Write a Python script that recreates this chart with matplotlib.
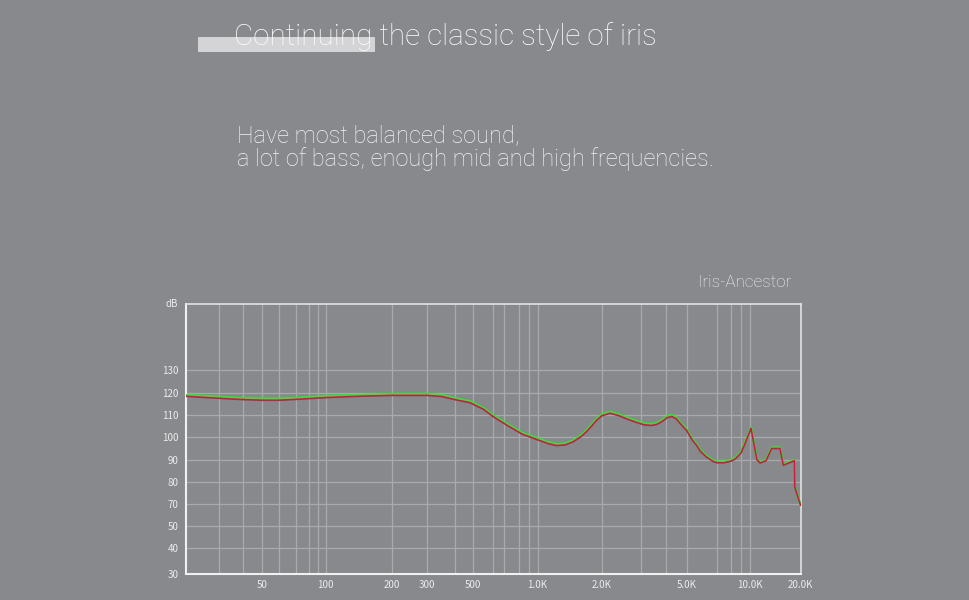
import matplotlib
matplotlib.use("Agg")
import matplotlib.pyplot as plt
import numpy as np
from matplotlib.patches import Rectangle
from matplotlib.ticker import FixedLocator, NullFormatter

# frequency response (Hz, dB)
freq = [20, 30, 40, 50, 60, 70, 100, 140, 200, 300, 350, 400, 480, 550, 600,
        715, 830, 1000, 1120, 1230, 1350, 1470, 1600, 1700, 1800, 1900, 2000,
        2180, 2370, 2600, 2820, 3100, 3390, 3600, 3810, 4050, 4250, 4450, 4650,
        5000, 5300, 5560, 5800, 6200, 6700, 7000, 7500, 8000, 8400, 9000, 9500,
        10200, 11050, 11550, 12500, 13500, 15100, 15800, 18350, 18450, 19950]
red_db = [118.5, 117.6, 117.0, 116.7, 116.7, 117.1, 117.9, 118.5, 118.9, 118.9,
          118.4, 117.0, 115.6, 112.6, 109.4, 105.5, 101.4, 98.9, 97.2, 96.3,
          96.6, 98.0, 100.3, 102.6, 105.2, 107.8, 109.6, 110.8, 109.8, 108.2,
          106.9, 105.6, 105.3, 105.8, 107.0, 108.8, 109.3, 108.4, 106.2, 102.8,
          98.8, 96.5, 93.8, 91.3, 89.2, 88.6, 88.6, 89.3, 90.2, 93.0, 97.5,
          104.0, 90.0, 88.5, 89.5, 95.0, 95.0, 87.5, 89.5, 77.5, 69.0]
green_db = [119.0, 118.2, 117.6, 117.4, 117.4, 117.7, 118.5, 119.1, 119.5, 119.5,
            119.0, 117.6, 116.2, 113.2, 110.0, 106.1, 102.0, 99.5, 97.8, 96.9,
            97.2, 98.6, 100.9, 103.2, 105.8, 108.4, 110.2, 111.4, 110.4, 108.8,
            107.5, 106.2, 105.9, 106.4, 107.6, 109.4, 109.9, 109.0, 106.8, 103.3,
            99.3, 97.0, 94.3, 91.8, 89.7, 89.1, 89.1, 89.8, 90.7, 93.5, 98.0,
            104.4, 90.4, 88.9, 89.9, 95.4, 95.4, 87.9, 89.8, 77.8, 69.2]

x_label_pos = [50, 100, 200, 300, 500, 1000, 2000, 5000, 10000, 20000]
x_labels = ['50', '100', '200', '300', '500', '1.0K', '2.0K', '5.0K', '10.0K', '20.0K']
x_grid = [30, 40, 50, 60, 70, 80, 90, 100, 200, 300, 400, 500, 600, 700, 800,
          900, 1000, 2000, 3000, 4000, 5000, 7000, 8000, 9000, 10000]
y_ticks = [30, 40, 50, 70, 80, 90, 100, 110, 120, 130]

# the measuring software's axes are not quite log / linear: calibration points
x_cal_hz = [1, 20, 30, 40, 50, 60, 70, 80, 90, 100, 200, 300, 400, 500, 600, 700,
            800, 900, 1000, 2000, 3000, 4000, 5000, 7000, 8000, 9000, 10000,
            20000, 1e6]
x_cal_pos = [-81, 185.7, 218.7, 243.3, 262.3, 279, 296.3, 308.7, 318, 325.7,
             392, 427, 454.7, 473.3, 492.7, 504.3, 519, 529.3, 537.5, 601.7,
             641, 666, 687, 717, 730.7, 741, 749.5, 800.7, 1149]
y_cal_db = [-200, 30, 40, 50, 70, 80, 90, 100, 110, 120, 130, 160, 400]
y_cal_pos = [-510, 0, 25.7, 47.7, 70, 92.3, 114.3, 136.7, 159, 181, 203.7, 269.7, 798]

log_cal = np.log10(x_cal_hz)


def x_fwd(f):
    return np.interp(np.log10(np.clip(f, 1e-6, None)), log_cal, x_cal_pos)


def x_inv(p):
    return 10 ** np.interp(p, x_cal_pos, log_cal)


def y_fwd(v):
    return np.interp(v, y_cal_db, y_cal_pos)


def y_inv(p):
    return np.interp(p, y_cal_pos, y_cal_db)


bg = '#88898d'
txt = '#f2f2f2'
head_font = 'Roboto'
W, H = 970, 600

fig = plt.figure(figsize=(9.7, 6), dpi=100, facecolor=bg)

# header texts
fig.add_artist(Rectangle((198.3 / W, 1 - 51.7 / H), 176.7 / W, 14.4 / H,
                         transform=fig.transFigure, facecolor='#d4d4d6',
                         edgecolor='none', zorder=1))
fig.text(234 / W, 1 - 45 / H, 'Continuing the classic style of iris',
         fontsize=21.3, color='#fcfcfc', family=head_font, fontweight='light',
         va='baseline', zorder=2)
fig.text(236.7 / W, 1 - 166 / H,
         'Have most balanced sound,\na lot of bass, enough mid and high frequencies.',
         fontsize=17, color=txt, family=head_font, fontweight='light',
         va='baseline', linespacing=1.02)
fig.text(697.7 / W, 1 - 286.7 / H, 'Iris-Ancestor',
         fontsize=12.3, color=txt, family=head_font, fontweight='light', va='baseline')

ax = fig.add_axes([185.7 / W, 1 - 574 / H, 615 / W, 269.7 / H])
ax.set_facecolor(bg)
ax.set_xscale('function', functions=(x_fwd, x_inv))
ax.set_yscale('function', functions=(y_fwd, y_inv))
ax.set_xlim(20, 20000)
ax.set_ylim(30, 160)

ax.plot(freq, green_db, color='#2ee63a', lw=1.7, zorder=3)
ax.plot(freq, red_db, color='#c41f3c', lw=1.2, zorder=4)

ax.xaxis.remove_overlapping_locs = False
ax.xaxis.set_major_locator(FixedLocator(x_label_pos))
ax.set_xticklabels(x_labels)
ax.xaxis.set_minor_locator(FixedLocator(x_grid))
ax.xaxis.set_minor_formatter(NullFormatter())
ax.yaxis.set_major_locator(FixedLocator(y_ticks))
ax.set_yticklabels([str(v) for v in y_ticks])
ax.yaxis.set_minor_locator(FixedLocator([]))

ax.grid(False)
ax.grid(True, which='minor', axis='x', color='#a9aaad', lw=0.9)
ax.grid(True, which='major', axis='y', color='#a9aaad', lw=0.9)
ax.set_axisbelow(True)

ax.tick_params(which='both', length=0, colors='#ececec', labelsize=7)
ax.tick_params(axis='x', pad=4)
ax.tick_params(axis='y', pad=5)
for lab in ax.get_xticklabels() + ax.get_yticklabels():
    lab.set_family(['Noto Sans CJK SC', 'DejaVu Sans'])

for side in ['left', 'bottom']:
    ax.spines[side].set_color('#f0f0f0')
    ax.spines[side].set_linewidth(1.5)
for side in ['top', 'right']:
    ax.spines[side].set_color('#e2e2e2')
    ax.spines[side].set_linewidth(1.2)

ax.text(-0.012, 1.0, 'dB', transform=ax.transAxes, ha='right', va='center',
        fontsize=7, color='#ececec', family=['Noto Sans CJK SC', 'DejaVu Sans'])

fig.savefig('out.png', dpi=100, facecolor=bg)
